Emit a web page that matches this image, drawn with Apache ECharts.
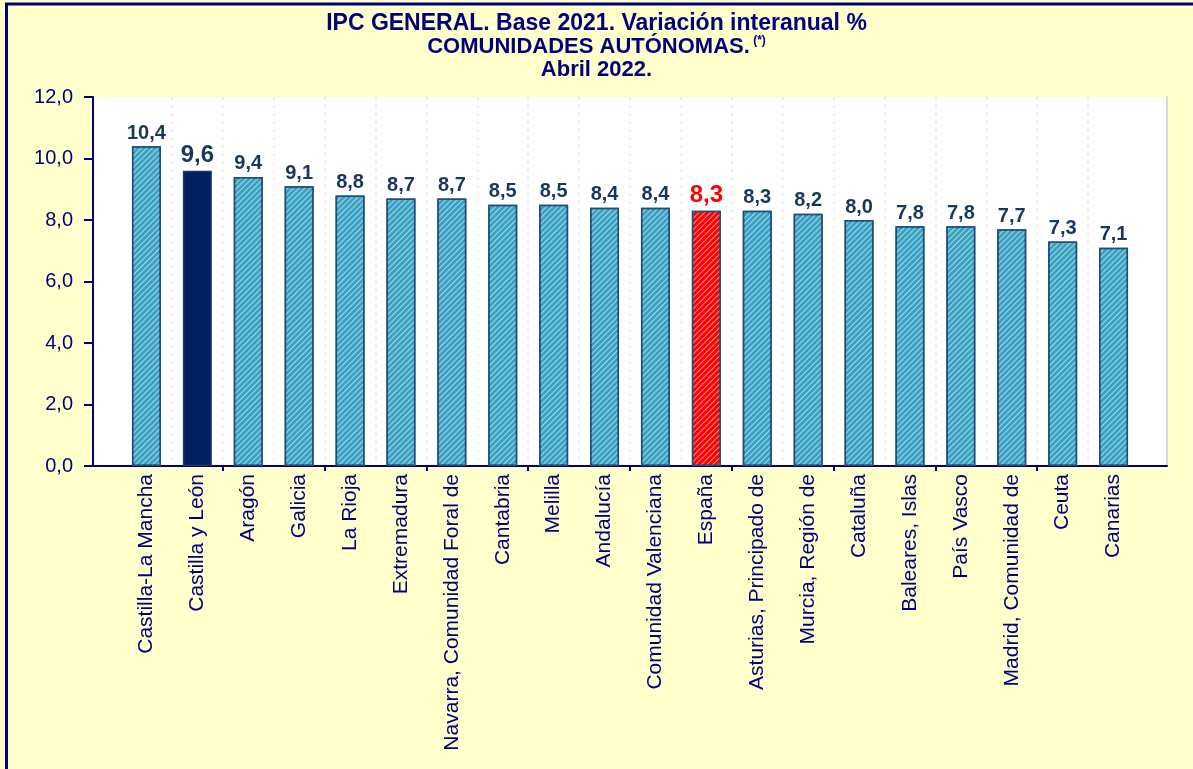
<!DOCTYPE html>
<html>
<head>
<meta charset="utf-8">
<script src="https://cdn.jsdelivr.net/npm/echarts@6/dist/echarts.min.js"></script>
<style>
html,body{margin:0;padding:0;background:#FFFFCC;overflow:hidden;}
#chart{width:1193px;height:769px;}
</style>
</head>
<body>
<div id="chart"></div>
<script>
// ---- data ----
const categories = ["Castilla-La Mancha","Castilla y León","Aragón","Galicia","La Rioja","Extremadura","Navarra, Comunidad Foral de","Cantabria","Melilla","Andalucía","Comunidad Valenciana","España","Asturias, Principado de","Murcia, Región de","Cataluña","Baleares, Islas","País Vasco","Madrid, Comunidad de","Ceuta","Canarias"];
const values = [10.4,9.6,9.4,9.1,8.8,8.7,8.7,8.5,8.5,8.4,8.4,8.3,8.3,8.2,8.0,7.8,7.8,7.7,7.3,7.1];
const highlightRegion = "Castilla y León";
const nationalTotal = "España";
const yTicks = [0,2,4,6,8,10,12];
const titleLines = ["IPC GENERAL. Base 2021. Variación interanual %", "COMUNIDADES AUTÓNOMAS.", "Abril 2022."];

// ---- styles ----
const NAVY = '#000080';
const LABEL = '#17375E';
const FONT = 'Liberation Sans, Arial, sans-serif';
const stripes = () => ({symbol:'rect', symbolSize:1, dashArrayX:[1,0], dashArrayY:[1,2.2], rotation:-Math.PI/4, color:'rgba(255,255,255,0.55)'});

const n = categories.length;
const pad = 0.55;
const xmin = -0.5 - pad, xmax = n - 0.5 + pad;
const labelPos = categories.map((c,i)=>i);
const boundaries = [];
for (let i = 0; i < n - 1; i++) boundaries.push(i + 0.5);
const tickPos = boundaries.filter((b,i)=> i % 2 === 1);

const fmt = v => v.toFixed(1).replace('.', ',');

const barData = values.map((v,i)=>{
  const c = categories[i];
  const item = {value:[i, v]};
  if (c === highlightRegion) {
    item.itemStyle = {color:'#002060', borderColor:'#1F3864', borderWidth:1.5};
    item.label = {fontSize:24, color:LABEL};
  } else if (c === nationalTotal) {
    item.itemStyle = {color:'#FF0000', borderColor:'#1F4E79', borderWidth:1.5, decal:stripes()};
    item.label = {fontSize:24, color:'#FF0000'};
  } else {
    item.itemStyle = {decal:stripes()};
  }
  return item;
});

const chart = echarts.init(document.getElementById('chart'));
chart.setOption({
  backgroundColor:'#FFFFCC',
  animation:false,
  title:{
    text:'{a|' + titleLines[0] + '}\n{t|' + titleLines[1] + '}{s| (*)}\n{t|' + titleLines[2] + '}',
    left:'center', top:7,
    textStyle:{
      rich:{
        a:{fontFamily:FONT, fontWeight:'bold', fontSize:23, color:NAVY, lineHeight:23},
        t:{fontFamily:FONT, fontWeight:'bold', fontSize:22, color:NAVY, lineHeight:23},
        s:{fontFamily:FONT, fontWeight:'bold', fontSize:12, color:NAVY, lineHeight:23, padding:[0,0,12,0]}
      }
    }
  },
  graphic:[{type:'rect', shape:{x:6.5, y:4, width:1400, height:1000}, style:{fill:'none', stroke:NAVY, lineWidth:3}, silent:true, z:100}],
  grid:{left:93, right:26, top:97, bottom:303, show:true, backgroundColor:'#FFFFFF', borderWidth:0},
  xAxis:[
    {type:'value', min:xmin, max:xmax,
      axisLine:{show:true, onZero:false, lineStyle:{color:NAVY, width:2}},
      axisTick:{show:true, customValues:tickPos, length:5, lineStyle:{color:NAVY, width:2}},
      axisLabel:{customValues:labelPos, formatter:v=>categories[Math.round(v)], rotate:90, fontFamily:FONT, fontSize:21, color:NAVY, margin:8},
      splitLine:{show:false}},
    {type:'value', min:xmin, max:xmax, position:'bottom',
      axisLine:{show:false}, axisLabel:{show:false},
      axisTick:{show:false, customValues:boundaries},
      splitLine:{show:true, lineStyle:{color:'#E6E6E6', width:1.5, type:[3,5]}}}
  ],
  yAxis:[
    {type:'value', min:yTicks[0], max:yTicks[yTicks.length-1], interval:2, position:'left',
      axisLine:{show:true, onZero:false, lineStyle:{color:NAVY, width:2}},
      axisTick:{show:true, length:9, lineStyle:{color:NAVY, width:2}},
      axisLabel:{formatter:fmt, fontFamily:FONT, fontSize:20, color:NAVY, margin:20},
      splitLine:{show:false}},
    {type:'value', min:yTicks[0], max:yTicks[yTicks.length-1], position:'right',
      axisLine:{show:true, onZero:false, lineStyle:{color:'#D9D9D9', width:2}},
      axisTick:{show:false}, axisLabel:{show:false}, splitLine:{show:false}}
  ],
  series:[{
    type:'bar', xAxisIndex:0, yAxisIndex:0, barWidth:29,
    data:barData,
    itemStyle:{color:'#3AA3C3', borderColor:'#1F4E79', borderWidth:1.5},
    label:{show:true, position:'top', distance:3, formatter:p=>fmt(p.value[1]), fontFamily:FONT, fontWeight:'bold', fontSize:20, color:LABEL}
  }]
});
</script>
</body>
</html>
